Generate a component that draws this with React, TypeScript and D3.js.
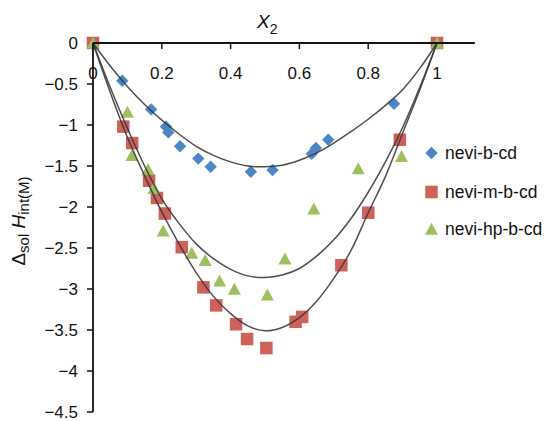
import React from "react";
import * as d3 from "d3";

// ---- data ----
const xTicks = [0, 0.2, 0.4, 0.6, 0.8, 1];
const xTickLabels = ["0", "0.2", "0.4", "0.6", "0.8", "1"];
const yTicks = [0, -0.5, -1, -1.5, -2, -2.5, -3, -3.5, -4, -4.5];
const yTickLabels = ["0", "−0.5", "−1", "−1.5", "−2", "−2.5", "−3", "−3.5", "−4", "−4.5"];

const seriesNames = ["nevi-b-cd", "nevi-m-b-cd", "nevi-hp-b-cd"];

// nevi-b-cd (diamonds)
const bX = [0, 0.085, 0.169, 0.212, 0.219, 0.253, 0.306, 0.342, 0.459, 0.522, 0.636, 0.648, 0.684, 0.875, 1];
const bY = [0, -0.46, -0.81, -1.02, -1.09, -1.26, -1.41, -1.51, -1.57, -1.55, -1.35, -1.28, -1.18, -0.74, 0];

// nevi-m-b-cd (squares)
const mX = [0, 0.088, 0.114, 0.163, 0.186, 0.209, 0.258, 0.321, 0.358, 0.416, 0.448, 0.504, 0.589, 0.608, 0.722, 0.8, 0.892, 1];
const mY = [0, -1.02, -1.22, -1.68, -1.89, -2.08, -2.49, -2.98, -3.2, -3.43, -3.61, -3.72, -3.4, -3.34, -2.71, -2.07, -1.18, 0];

// nevi-hp-b-cd (triangles)
const hX = [0, 0.1, 0.113, 0.16, 0.177, 0.204, 0.287, 0.326, 0.368, 0.411, 0.507, 0.558, 0.642, 0.771, 0.897, 1];
const hY = [0, -0.84, -1.37, -1.54, -1.77, -2.29, -2.56, -2.65, -2.9, -3.0, -3.07, -2.63, -2.02, -1.53, -1.38, 0];

// fitted trend curves
const fitX = [0, 0.05, 0.1, 0.15, 0.2, 0.25, 0.3, 0.35, 0.4, 0.45, 0.5, 0.55, 0.6, 0.65, 0.7, 0.75, 0.8, 0.85, 0.9, 0.95, 1];
const fitB = [0, -0.28, -0.53, -0.75, -0.94, -1.11, -1.26, -1.37, -1.45, -1.5, -1.51, -1.49, -1.43, -1.34, -1.22, -1.08, -0.93, -0.76, -0.57, -0.31, 0];
const fitM = [0, -0.6, -1.15, -1.62, -2.06, -2.45, -2.8, -3.09, -3.3, -3.45, -3.51, -3.47, -3.35, -3.15, -2.87, -2.53, -2.07, -1.63, -1.1, -0.57, 0];
const fitH = [0, -0.54, -1.04, -1.5, -1.9, -2.2, -2.45, -2.63, -2.76, -2.84, -2.86, -2.83, -2.75, -2.6, -2.4, -2.14, -1.82, -1.45, -1.03, -0.54, 0];

const colors = ["#4d86c8", "#d0605a", "#9dbf5f"];

const W = 545;
const H = 421;

function Marker({ kind, x, y, color }: { kind: number; x: number; y: number; color: string }) {
  if (kind === 0) {
    const r = 6.2;
    return <path d={`M${x},${y - r}L${x + r},${y}L${x},${y + r}L${x - r},${y}Z`} fill={color} />;
  }
  if (kind === 1) {
    const s = 12.5;
    return <rect x={x - s / 2} y={y - s / 2} width={s} height={s} fill={color} />;
  }
  const w = 13, h = 11.5;
  return <path d={`M${x},${y - h / 2 - 0.5}L${x + w / 2},${y + h / 2}L${x - w / 2},${y + h / 2}Z`} fill={color} />;
}

export default function App() {
  const xs = d3.scaleLinear().domain([0, 1.11]).range([93, 93 + 344 * 1.11]);
  const ys = d3.scaleLinear().domain([-4.5, 0]).range([412, 43]);

  const line = d3
    .line<[number, number]>()
    .x((d) => xs(d[0]))
    .y((d) => ys(d[1]))
    .curve(d3.curveCatmullRom.alpha(0.5));

  const fits = [fitB, fitM, fitH].map((f) => fitX.map((x, i) => [x, f[i]] as [number, number]));
  const pts = [
    bX.map((x, i) => [x, bY[i]]),
    mX.map((x, i) => [x, mY[i]]),
    hX.map((x, i) => [x, hY[i]]),
  ];

  const font = "Liberation Sans, Arial, Helvetica, sans-serif";

  return (
    <svg
      width={W}
      height={H}
      style={{ position: "absolute", left: 0, top: 0, background: "#fff" }}
      fontFamily={font}
    >
      <rect x={0} y={0} width={W} height={H} fill="#fff" />

      {/* markers */}
      {pts.map((s, k) =>
        s.map((p, i) => <Marker key={`${k}-${i}`} kind={k} x={xs(p[0])} y={ys(p[1])} color={colors[k]} />)
      )}

      {/* fitted curves */}
      {fits.map((f, k) => (
        <path key={k} d={line(f) || ""} fill="none" stroke="#3a3a3a" strokeWidth={1.5} strokeOpacity={0.9} />
      ))}

      {/* axes */}
      <line x1={xs(0)} x2={xs(1.11)} y1={ys(0)} y2={ys(0)} stroke="#111" strokeWidth={1.8} />
      <line x1={xs(0)} x2={xs(0)} y1={ys(0)} y2={ys(-4.5)} stroke="#111" strokeWidth={1.8} />
      {xTicks.slice(1, 5).map((t) => (
        <line key={t} x1={xs(t)} x2={xs(t)} y1={ys(0)} y2={ys(0) + 6} stroke="#111" strokeWidth={1.5} />
      ))}
      {xTicks.map((t, i) => (
        <text key={t} x={xs(t)} y={79} textAnchor="middle" fontSize={17} fill="#111">
          {xTickLabels[i]}
        </text>
      ))}
      {yTicks.map((t, i) => (
        <g key={t}>
          {i > 0 && <line x1={xs(0) - 6} x2={xs(0)} y1={ys(t)} y2={ys(t)} stroke="#111" strokeWidth={1.5} />}
          <text x={78} y={ys(t)} dy="0.36em" textAnchor="end" fontSize={17} fill="#111">
            {yTickLabels[i]}
          </text>
        </g>
      ))}

      {/* x title */}
      <text x={257} y={28} fontSize={19} fill="#111">
        <tspan fontStyle="italic">X</tspan>
        <tspan fontSize={14} dy={6}>2</tspan>
      </text>

      {/* y title */}
      <text transform="translate(25,221) rotate(-90)" textAnchor="middle" fontSize={19} fill="#111">
        <tspan>Δ</tspan>
        <tspan fontSize={15} dy={3.5}>sol</tspan>
        <tspan fontStyle="italic" dy={-3.5}> H</tspan>
        <tspan fontSize={15} dy={3.5}>int(M)</tspan>
      </text>

      {/* legend */}
      {seriesNames.map((n, k) => {
        const cy = [153, 192, 229][k];
        return (
          <g key={n}>
            <Marker kind={k} x={431.5} y={cy} color={colors[k]} />
            <text x={445} y={cy} dy="0.36em" fontSize={17.5} fill="#111">
              {n}
            </text>
          </g>
        );
      })}
    </svg>
  );
}
